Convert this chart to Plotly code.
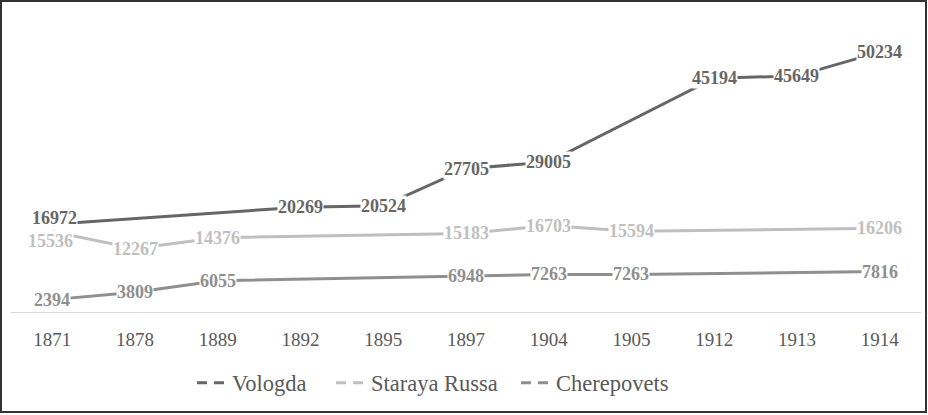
import plotly.graph_objects as go

years = ["1871", "1878", "1889", "1892", "1895", "1897", "1904", "1905", "1912", "1913", "1914"]
vologda = [16972, None, None, 20269, 20524, 27705, 29005, None, 45194, 45649, 50234]
staraya_russa = [15536, 12267, 14376, None, None, 15183, 16703, 15594, None, None, 16206]
cherepovets = [2394, 3809, 6055, None, None, 6948, 7263, 7263, None, None, 7816]

series_names = ["Vologda", "Staraya Russa", "Cherepovets"]
series_values = [vologda, staraya_russa, cherepovets]

# styling (kept apart from data)
colors = ["#666666", "#bfbfbf", "#8f8f8f"]
label_nudge = {("Vologda", 0): (2, 6), ("Staraya Russa", 0): (-2, -9)}
legend_left_px = [192, 331, 516]

W, H = 928, 415
ML, MR, MT, MB = 11, 7, 12, 103
PW, PH = W - ML - MR, H - MT - MB
SERIF = "Liberation Serif, Times New Roman, serif"

fig = go.Figure()
annotations = []
for name, vals, col in zip(series_names, series_values, colors):
    fig.add_trace(go.Scatter(x=years, y=vals, mode="lines", connectgaps=True,
                             line=dict(color=col, width=3), showlegend=False,
                             hoverinfo="skip"))
    for i, (yr, v) in enumerate(zip(years, vals)):
        if v is None:
            continue
        dx, dy = label_nudge.get((name, i), (0, 0))
        annotations.append(dict(x=i, y=v, xref="x", yref="y", text="<b>%d</b>" % v,
                                showarrow=False, bgcolor="white", borderpad=0,
                                xshift=dx, yshift=dy,
                                font=dict(family=SERIF, size=18, color=col)))

legend_layouts = {}
for k, (name, col, lpx) in enumerate(zip(series_names, colors, legend_left_px)):
    lg = "legend" if k == 0 else "legend%d" % (k + 1)
    fig.add_trace(go.Scatter(x=[years[0]], y=[None], mode="lines", name=name,
                             legend=lg,
                             line=dict(color=col, width=3, dash="10px,7px")))
    legend_layouts[lg] = dict(orientation="h", x=(lpx - ML) / PW, xanchor="left",
                              y=-71 / PH, yanchor="middle",
                              font=dict(family=SERIF, size=22.5, color="#595959"),
                              bgcolor="rgba(0,0,0,0)", borderwidth=0)

shapes = [dict(type="rect", xref="paper", yref="paper",
               x0=(1 - ML) / PW, x1=(926 - ML) / PW,
               y0=(H - MB - 412) / PH, y1=(H - MB - 1) / PH,
               line=dict(color="#333333", width=2), fillcolor="rgba(0,0,0,0)",
               layer="above")]

fig.update_layout(
    width=W, height=H,
    margin=dict(l=ML, r=MR, t=MT, b=MB, pad=0),
    paper_bgcolor="white", plot_bgcolor="white",
    font=dict(family=SERIF, color="#595959"),
    xaxis=dict(type="category", range=[-0.5, 10.5], showgrid=False, zeroline=False,
               showline=True, linecolor="#d9d9d9", linewidth=1, ticks="",
               ticklabelstandoff=10,
               tickfont=dict(family=SERIF, size=19, color="#595959"),
               fixedrange=True),
    yaxis=dict(range=[0, 58000], visible=False, showgrid=False, zeroline=False,
               fixedrange=True),
    annotations=annotations,
    shapes=shapes,
    showlegend=True,
    **legend_layouts,
)

fig.write_html("out.html", config={"displayModeBar": False},
               post_script="document.body.style.margin='0';")
